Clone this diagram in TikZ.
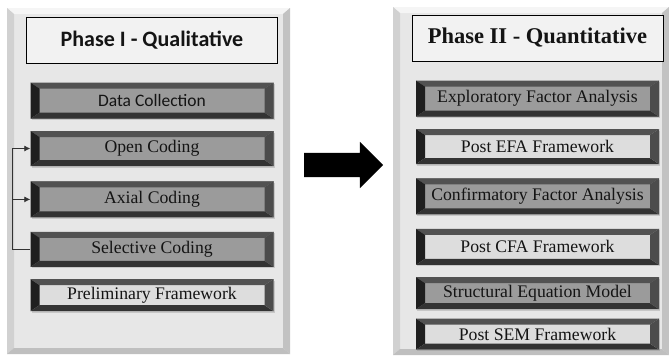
\documentclass[tikz,border=0pt]{standalone}
\usepackage{fontspec}
\setmainfont{Liberation Serif}
\newfontfamily\calfont{Carlito}
\usetikzlibrary{positioning, calc, arrows.meta, shapes.arrows, shadows}

\definecolor{paneface}{HTML}{E7E7E7}
\definecolor{darkface}{HTML}{9B9B9B}
\definecolor{lightface}{HTML}{DDDDDD}
\definecolor{titlefill}{HTML}{F2F2F2}
\definecolor{inktext}{HTML}{141414}

\begin{document}
\begin{tikzpicture}[
  x=1pt, y=1pt,
  font=\fontsize{17.7}{20}\selectfont,
  node distance=12pt,
  >={Latex[length=6pt,width=6pt]},
  bevel/.style n args={6}{path picture={
    \path (path picture bounding box.north west) coordinate (bnw)
          (path picture bounding box.north east) coordinate (bne)
          (path picture bounding box.south west) coordinate (bsw)
          (path picture bounding box.south east) coordinate (bse);
    \fill[#3] (bnw) -- (bne) -- ++(-#1,-#2) -- ($(bnw)+(#1,-#2)$) -- cycle;
    \fill[#4] (bnw) -- (bsw) -- ++(#1,#2) -- ($(bnw)+(#1,-#2)$) -- cycle;
    \fill[#5] (bsw) -- (bse) -- ++(-#1,#2) -- ($(bsw)+(#1,#2)$) -- cycle;
    \fill[#6] (bne) -- (bse) -- ++(-#1,#2) -- ($(bne)+(-#1,-#2)$) -- cycle;
  }},
  panel/.style={fill=paneface, inner sep=0pt,
    bevel={7}{6}{white!96!black}{white!82!black}{white!75!black}{white!76!black}},
  phasetitle/.style={draw=black, line width=0.8pt, fill=titlefill,
    minimum width=251pt, minimum height=46pt, text=inktext},
  stepbox/.style={minimum width=243pt, minimum height=35pt, inner sep=0pt,
    text=inktext,
    drop shadow={shadow xshift=1pt, shadow yshift=-1.5pt, opacity=0.3},
    bevel={9}{6}{black!68}{black!88}{black!80}{black!70}},
  darkstep/.style={stepbox, fill=darkface},
  lightstep/.style={stepbox, fill=lightface},
  conn/.style={draw=black!80, line width=0.8pt},
  bigarrow/.style={single arrow, fill=black, inner sep=12pt,
    minimum height=79pt, single arrow head extend=11pt},
]
\useasboundingbox (0,0) rectangle (669,-357);

% panels
\node[panel, minimum width=283pt, minimum height=346pt] (leftpanel) at (148.5,-181) {};
\node[panel, minimum width=276pt, minimum height=348pt] (rightpanel) at (531,-181) {};

% phase I
\node[phasetitle, font=\calfont\bfseries\fontsize{22}{24}\selectfont] (phaseI) at (152,-40)
  {Phase I - Qualitative};
\node[darkstep, below=19pt of phaseI, minimum height=36pt, font=\calfont\fontsize{17.5}{20}\selectfont]
  (datacoll) {Data Collection};
\node[darkstep, below=12pt of datacoll] (opencod) {Open Coding};
\node[darkstep, below=15pt of opencod, minimum height=36pt] (axialcod) {Axial Coding};
\node[darkstep, below=14pt of axialcod] (selcod) {Selective Coding};
\node[lightstep, below=12pt of selcod, minimum height=32pt] (prelim) {Preliminary Framework};

% feedback loop
\coordinate (loopx) at ($(selcod.west)+(-18,0)$);
\draw[conn, ->] (selcod.west) -- (loopx) |- (opencod.west);
\draw[conn, ->] (loopx |- axialcod.west) -- (axialcod.west);

% phase II
\node[phasetitle, font=\bfseries\fontsize{22.5}{24}\selectfont] (phaseII) at (537.5,-38)
  {Phase II - Quantitative};
\node[darkstep, below=19pt of phaseII, minimum height=36pt] (efa) {Exploratory Factor Analysis};
\node[lightstep, below=12pt of efa] (postefa) {Post EFA Framework};
\node[darkstep, below=14pt of postefa, minimum height=36pt] (cfa) {Confirmatory Factor Analysis};
\node[lightstep, below=14pt of cfa, minimum height=36pt] (postcfa) {Post CFA Framework};
\node[darkstep, below=12pt of postcfa, minimum height=32pt] (sem) {Structural Equation Model};
\node[lightstep, below=9pt of sem, minimum height=31pt] (postsem) {Post SEM Framework};

\node[bigarrow] (phasearrow) at (337.5,-165) {};

\end{tikzpicture}
\end{document}
